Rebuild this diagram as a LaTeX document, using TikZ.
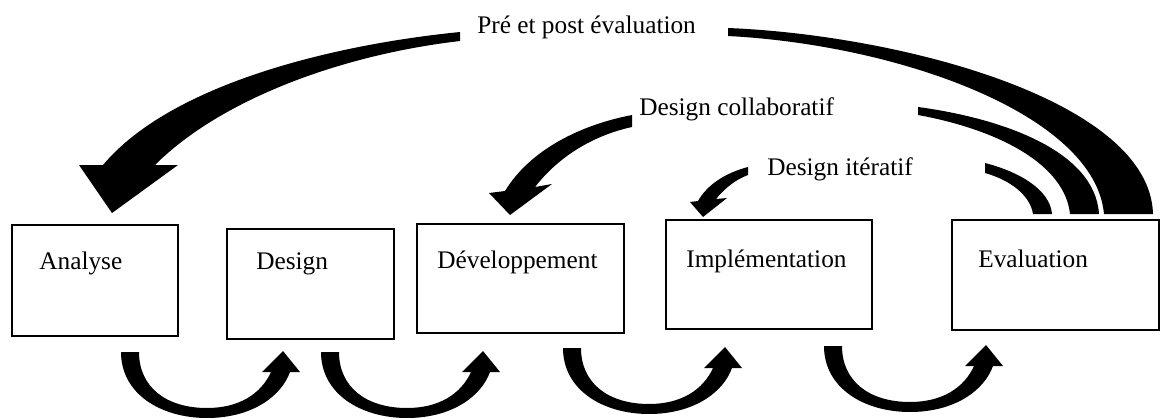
\documentclass[tikz,border=0pt]{standalone}
\usepackage{fontspec}
\setmainfont{Liberation Serif}
\tikzset{
stage/.style={draw, line width=1.6pt, inner sep=0pt},
stagetext/.style={anchor=base west, inner sep=0pt, font=\fontsize{14.4}{17}\selectfont},
}
\begin{document}
\begin{tikzpicture}[x=0.02cm, y=-0.02cm]
\useasboundingbox (0,0) rectangle (1161,419);
%\draw[very thin,style=gray!60,step=50] (0,0) grid (1161,419);
\node[stage, minimum width=3.32cm, minimum height=2.22cm] (ana) at (95,280.5) {};
\node[stage, minimum width=3.34cm, minimum height=2.2cm] (des) at (310.5,284) {};
\node[stage, minimum width=4.14cm, minimum height=2.18cm] (dev) at (520.5,278.5) {};
\node[stage, minimum width=4.12cm, minimum height=2.18cm] (imp) at (769,274.5) {};
\node[stage, minimum width=4.14cm, minimum height=2.2cm] (eva) at (1055.5,275) {};
\node[stagetext] (anat) at (39,269) {Analyse};
\node[stagetext] (dest) at (256,269) {Design};
\node[stagetext] (devt) at (437,268) {Développement};
\node[stagetext] (impt) at (686,267) {Implémentation};
\node[stagetext] (evat) at (978,267) {Evaluation};
\node[stagetext] (pre) at (477,33) {Pré et post évaluation};
\node[stagetext] (col) at (639,115) {Design collaboratif};
\node[stagetext] (ite) at (767,175) {Design itératif};
% arrows below the boxes
\foreach \x/\y in {121/352, 321/352, 563/348, 824/346}
{
\fill[shift={(\x,\y)}] (0,0) .. controls (0,42) and (40,66) .. (86,66) .. controls (130,66) and (160,45) .. (169,20) -- (179,20) -- (162,-1) -- (141,20) -- (150,20) .. controls (140,42) and (118,56) .. (86,56) .. controls (45,56) and (18,35) .. (18,0) -- cycle;
}
% arrows from the top
\fill (460,32) .. controls (330,45) and (170,85) .. (103,165) -- (79,165) -- (112,213) -- (178,165) -- (155,165) .. controls (220,100) and (340,55) .. (460,41) -- cycle;
\fill (632,115) .. controls (580,125) and (530,150) .. (505,191) -- (489,193) -- (510,215) -- (552,184) -- (535,187) .. controls (560,155) and (595,135) .. (632,127) -- cycle;
\fill (748,167) .. controls (725,173) and (707,185) .. (698,201) -- (690,202) -- (703,217) -- (727,198) -- (716,199) .. controls (725,188) and (735,180) .. (748,175) -- cycle;
% bands into the evaluation box
\fill (728,28) .. controls (900,35) and (1150,100) .. (1153,214) -- (1104,214) .. controls (1095,115) and (900,45) .. (728,36) -- cycle;
\fill (918,107) .. controls (1000,118) and (1095,150) .. (1099,214) -- (1070,214) .. controls (1065,165) and (1000,130) .. (918,115) -- cycle;
\fill (985,163) .. controls (1020,172) and (1050,190) .. (1052,214) -- (1033,214) .. controls (1030,195) and (1010,180) .. (985,173) -- cycle;
\end{tikzpicture}
\end{document}
